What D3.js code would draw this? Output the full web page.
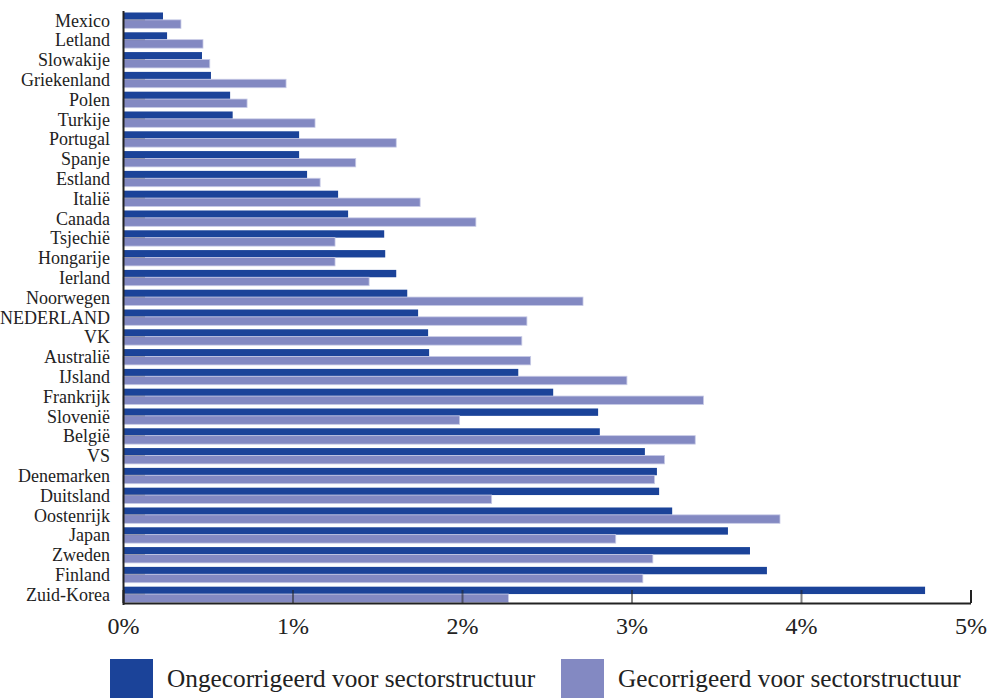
<!DOCTYPE html>
<html>
<head>
<meta charset="utf-8">
<script src="https://cdn.jsdelivr.net/npm/d3@7"></script>
<style>
  html, body { margin: 0; padding: 0; background: #fff; }
  svg { display: block; }
  text { font-family: "Liberation Serif", "DejaVu Serif", serif; fill: #222; }
</style>
</head>
<body>
<svg id="chart" width="990" height="698"></svg>
<script>
const categories = ["Mexico","Letland","Slowakije","Griekenland","Polen","Turkije","Portugal","Spanje","Estland","Italië","Canada","Tsjechië","Hongarije","Ierland","Noorwegen","NEDERLAND","VK","Australië","IJsland","Frankrijk","Slovenië","België","VS","Denemarken","Duitsland","Oostenrijk","Japan","Zweden","Finland","Zuid-Korea"];
const ongecorrigeerd = [0.236,0.26,0.466,0.519,0.632,0.647,1.039,1.039,1.086,1.269,1.328,1.541,1.547,1.612,1.677,1.741,1.80,1.806,2.332,2.538,2.803,2.813,3.079,3.15,3.163,3.24,3.569,3.699,3.799,4.732];
const gecorrigeerd = [0.342,0.472,0.512,0.962,0.732,1.133,1.612,1.373,1.163,1.753,2.082,1.251,1.251,1.452,2.714,2.383,2.353,2.405,2.973,3.425,1.986,3.376,3.195,3.136,2.175,3.876,2.907,3.126,3.067,2.274];
const xTicks = [0,1,2,3,4,5];
const seriesNames = ["Ongecorrigeerd voor sectorstructuur","Gecorrigeerd voor sectorstructuur"];
const colors = ["#1b4399","#8389c2"];

const svg = d3.select("#chart");
const x = d3.scaleLinear().domain([0,5]).range([123,970.5]);
const y = d3.scaleBand().domain(categories).range([10.5,604.5]).paddingInner(0.2).paddingOuter(0.1);
const bw = y.bandwidth();
const darkH = bw*0.465;

const rows = svg.append("g").selectAll("g").data(categories).join("g")
  .attr("transform", d => `translate(0,${y(d)})`);

rows.append("rect")
  .attr("x", x(0))
  .attr("y", 0)
  .attr("width", (d,i) => x(ongecorrigeerd[i]) - x(0))
  .attr("height", darkH)
  .attr("fill", colors[0]);

rows.append("rect")
  .attr("x", x(0))
  .attr("y", darkH)
  .attr("width", (d,i) => x(gecorrigeerd[i]) - x(0))
  .attr("height", bw - darkH)
  .attr("fill", colors[1])
  .attr("stroke", "#c8cbe6")
  .attr("stroke-width", 0.8);

// Y axis
const yAxis = svg.append("g")
  .attr("transform", `translate(${x(0)},0)`)
  .call(d3.axisLeft(y).tickSize(-22).tickSizeOuter(0).tickPadding(13));
yAxis.select(".domain").attr("stroke","#222").attr("stroke-width",2);
yAxis.selectAll(".tick line")
  .attr("transform", `translate(0,${darkH - bw/2})`)
  .attr("stroke","#333").attr("stroke-opacity",0.3).attr("stroke-width",1);
yAxis.selectAll(".tick text")
  .attr("font-size", "18px")
  .attr("font-family", "Liberation Serif, serif")
  .attr("fill", "#222")
  .attr("dy", "0.34em");

// X axis
const axisY = 603;
const xAxis = svg.append("g")
  .attr("transform", `translate(0,${axisY})`)
  .call(d3.axisBottom(x).tickValues(xTicks).tickSize(-13).tickSizeOuter(0)
    .tickFormat(d => d + "%"));
xAxis.select(".domain").attr("stroke","#222").attr("stroke-width",2);
xAxis.selectAll(".tick line").attr("stroke","#222").attr("stroke-width",2);
xAxis.selectAll(".tick").filter(d => d > 0 && d < 5).select("line").attr("stroke-opacity",0.55);
xAxis.selectAll(".tick text")
  .attr("y", 31).attr("dy", 0)
  .attr("font-size", "24px")
  .attr("font-family", "Liberation Serif, serif")
  .attr("fill", "#222");

// Legend
const legendItems = [
  {name: seriesNames[0], color: colors[0], sx: 110, tx: 167},
  {name: seriesNames[1], color: colors[1], sx: 561, tx: 618}
];
const lg = svg.append("g").selectAll("g").data(legendItems).join("g");
lg.append("rect")
  .attr("x", d => d.sx).attr("y", 659)
  .attr("width", 43).attr("height", 39)
  .attr("fill", d => d.color);
lg.append("text")
  .attr("x", d => d.tx).attr("y", 687)
  .attr("font-size", "25.3px")
  .text(d => d.name);
</script>
</body>
</html>
